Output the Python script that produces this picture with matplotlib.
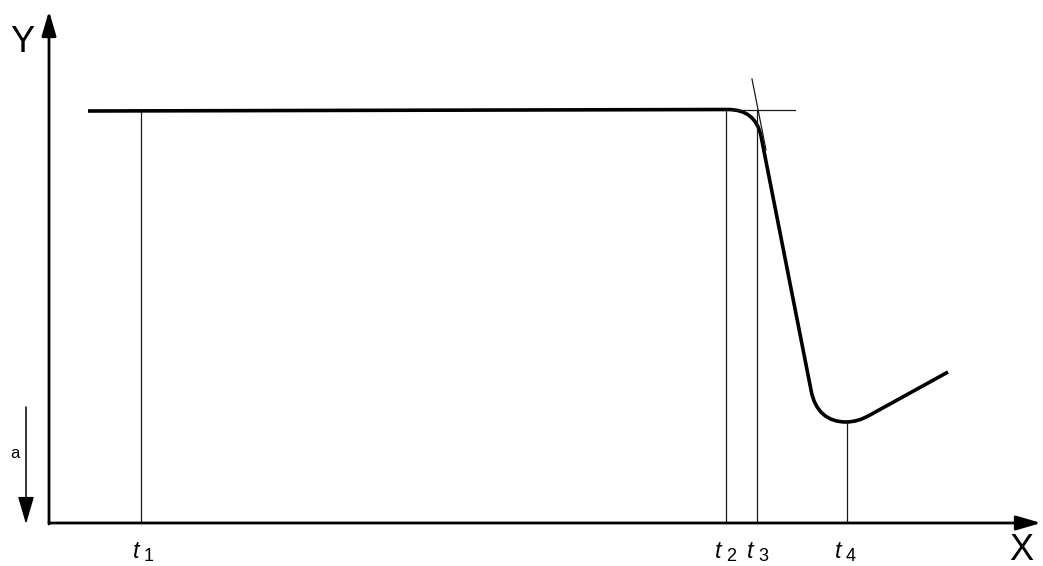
import matplotlib
matplotlib.use("Agg")
import matplotlib.pyplot as plt
from matplotlib.path import Path
from matplotlib.patches import PathPatch

plt.rcParams["font.family"] = ["Liberation Sans", "DejaVu Sans"]

# figure works in pixel units (x right, y down)
W, H = 1043, 566

# main curve: vertices and path codes (plateau, rounded drop, minimum, rise)
curve_x = [88, 728, 755.5, 761, 811, 815, 828, 846, 858, 870, 948]
curve_y = [111, 109.5, 109.5, 136, 390, 412, 422, 422, 422, 415, 372]
curve_codes = [Path.MOVETO, Path.LINETO, Path.CURVE3, Path.CURVE3, Path.LINETO,
               Path.CURVE4, Path.CURVE4, Path.CURVE4, Path.CURVE3, Path.CURVE3,
               Path.LINETO]

# marker times on the x axis and where their drop lines start
t_x = [141, 726, 757, 847]
t_top = [111, 109.5, 109.5, 422]
t_names = ["1", "2", "3", "4"]
t_label_x = [133, 715, 747, 835]

# tangent construction lines at the knee
tan_h_x = [730, 795]
tan_h_y = [109.5, 109.5]
tan_s_x = [752, 766]
tan_s_y = [79, 150]

# axes
origin = (49, 523)
x_tip = (1041, 523)
y_tip = (49, 11)
a_from = (26, 407)
a_to = (26, 524)

fig = plt.figure(figsize=(W / 100, H / 100), dpi=100)
ax = fig.add_axes([0, 0, 1, 1])
ax.set_xlim(0, W)
ax.set_ylim(H, 0)
ax.axis("off")

thin = dict(color="#1a1a1a", lw=0.9)

for x, top in zip(t_x, t_top):
    ax.plot([x, x], [top, origin[1]], **thin)
ax.plot(tan_h_x, tan_h_y, **thin)
ax.plot(tan_s_x, tan_s_y, **thin)

path = Path(list(zip(curve_x, curve_y)), curve_codes)
ax.add_patch(PathPatch(path, fill=False, lw=2.6, edgecolor="black",
                       capstyle="butt", joinstyle="round"))

arrow = dict(arrowstyle="-|>,head_length=0.75,head_width=0.22",
             color="black", lw=2.0, shrinkA=0, shrinkB=0, mutation_scale=20)
ax.annotate("", xy=x_tip, xytext=origin, arrowprops=arrow)
ax.annotate("", xy=y_tip, xytext=(origin[0], origin[1] + 1), arrowprops=arrow)
ax.annotate("", xy=a_to, xytext=a_from,
            arrowprops=dict(arrowstyle="-|>,head_length=0.85,head_width=0.25",
                            color="black", lw=1.1, shrinkA=0, shrinkB=0,
                            mutation_scale=20))

ax.text(22, 43, "Y", fontsize=26, ha="center", va="center")
ax.text(1021, 550, "X", fontsize=26, ha="center", va="center")
ax.text(15, 453, "a", fontsize=12, ha="center", va="center")

for lx, n in zip(t_label_x, t_names):
    ax.text(lx, 558, "t", fontsize=17, style="italic", ha="left", va="baseline")
    ax.text(lx + 11, 561, n, fontsize=13, ha="left", va="baseline")

fig.savefig("out.png", dpi=100)
